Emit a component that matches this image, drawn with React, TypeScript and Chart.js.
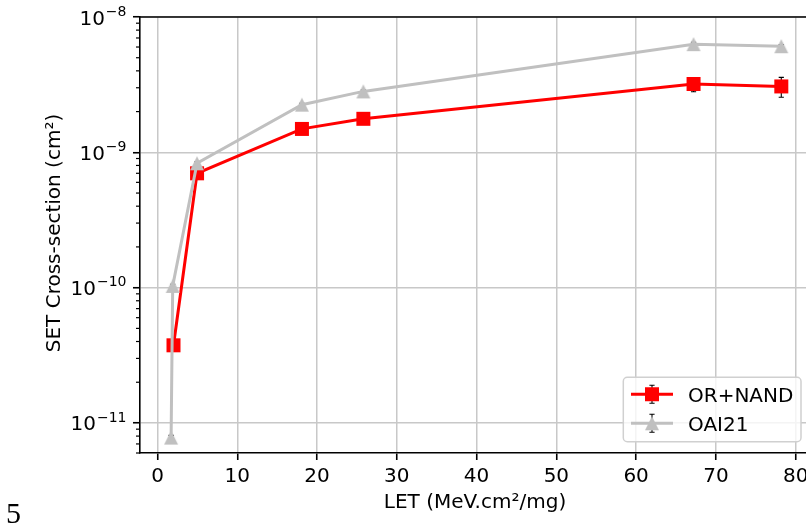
import React, { useEffect, useRef } from 'react';
import { Chart, registerables } from 'chart.js';

Chart.register(...registerables);

// ---- data ----
const seriesNames = ['OR+NAND', 'OAI21'];
const orNandLet = [2.0, 4.95, 18.1, 25.8, 67.2, 78.2];
const orNandSigma = [3.75e-11, 7.0e-10, 1.49e-9, 1.77e-9, 3.2e-9, 3.07e-9];
const orNandErrLow = [3.6e-11, 6.8e-10, 1.45e-9, 1.72e-9, 2.8e-9, 2.55e-9];
const orNandErrHigh = [3.9e-11, 7.2e-10, 1.53e-9, 1.82e-9, 3.45e-9, 3.58e-9];
const oaiLet = [1.7, 1.9, 4.95, 18.1, 25.8, 67.2, 78.2];
const oaiSigma = [7.8e-12, 1.03e-10, 8.3e-10, 2.25e-9, 2.82e-9, 6.3e-9, 6.08e-9];
const oaiErrLow = [7.5e-12, 1.0e-10, 8.1e-10, 2.2e-9, 2.76e-9, 6.1e-9, 5.9e-9];
const oaiErrHigh = [8.1e-12, 1.06e-10, 8.5e-10, 2.3e-9, 2.88e-9, 6.5e-9, 6.25e-9];
const xTickValues = [0, 10, 20, 30, 40, 50, 60, 70, 80];
const yDecadeExponents = [-11, -10, -9, -8];
const xAxisTitle = 'LET (MeV.cm²/mg)';
const yAxisTitle = 'SET Cross-section (cm²)';
const pageNumber = '5';
const xMin = -2.2;
const xMax = 81.8;
const yMin = 6e-12;
const yMax = 1e-8;

const RED = '#ff0000';
const SILVER = '#c0c0c0';
const FONT = "'DejaVu Sans', sans-serif";

function squareMarker(color: string, size: number) {
  const c = document.createElement('canvas');
  c.width = size + 2;
  c.height = size + 2;
  const g = c.getContext('2d')!;
  g.fillStyle = color;
  g.fillRect(1, 1, size, size);
  return c;
}

function triangleMarker(color: string, size: number) {
  const c = document.createElement('canvas');
  c.width = size + 2;
  c.height = size + 2;
  const g = c.getContext('2d')!;
  g.fillStyle = color;
  g.beginPath();
  g.moveTo(1 + size / 2, 1);
  g.lineTo(1 + size, 1 + size);
  g.lineTo(1, 1 + size);
  g.closePath();
  g.fill();
  return c;
}

export default function App() {
  const ref = useRef<HTMLCanvasElement | null>(null);

  useEffect(() => {
    const canvas = ref.current;
    if (!canvas) return;
    const sq = squareMarker(RED, 14);
    const tri = triangleMarker(SILVER, 14);
    const errSets = [
      { xs: orNandLet, lo: orNandErrLow, hi: orNandErrHigh },
      { xs: oaiLet, lo: oaiErrLow, hi: oaiErrHigh },
    ];

    const drawErr = (ctx: CanvasRenderingContext2D, px: number, y1: number, y2: number, cap: number) => {
      ctx.beginPath();
      ctx.moveTo(px, y1);
      ctx.lineTo(px, y2);
      ctx.moveTo(px - cap, y1);
      ctx.lineTo(px + cap, y1);
      ctx.moveTo(px - cap, y2);
      ctx.lineTo(px + cap, y2);
      ctx.stroke();
    };

    const decor = {
      id: 'mplDecor',
      beforeDatasetsDraw(chart: any) {
        const { ctx, scales } = chart;
        const x = scales.x;
        const y = scales.y;
        ctx.save();
        ctx.strokeStyle = '#000';
        ctx.lineWidth = 1.1;
        errSets.forEach((s) => {
          s.xs.forEach((v, i) => {
            const px = x.getPixelForValue(v);
            drawErr(ctx, px, y.getPixelForValue(s.hi[i]), y.getPixelForValue(s.lo[i]), 2.6);
          });
        });
        ctx.restore();
      },
      afterDraw(chart: any) {
        const { ctx, chartArea: a, scales } = chart;
        const y = scales.y;
        ctx.save();
        // top spine
        ctx.strokeStyle = '#000';
        ctx.lineWidth = 1.6;
        ctx.beginPath();
        ctx.moveTo(a.left - 0.8, a.top);
        ctx.lineTo(a.right + 1, a.top);
        ctx.stroke();
        // minor ticks on log axis
        ctx.lineWidth = 1.2;
        for (let e = -12; e <= -9; e++) {
          for (let m = 2; m <= 9; m++) {
            const v = m * Math.pow(10, e);
            if (v < yMin || v > yMax) continue;
            const py = y.getPixelForValue(v);
            ctx.beginPath();
            ctx.moveTo(a.left - 4, py);
            ctx.lineTo(a.left, py);
            ctx.stroke();
          }
        }
        // y tick labels with superscript exponents
        ctx.fillStyle = '#000';
        ctx.textAlign = 'right';
        ctx.textBaseline = 'alphabetic';
        yDecadeExponents.forEach((e) => {
          const py = y.getPixelForValue(Math.pow(10, e));
          const exp = (e < 0 ? '\u2212' : '') + Math.abs(e);
          ctx.font = `14px ${FONT}`;
          const ew = ctx.measureText(exp).width;
          ctx.fillText(exp, a.left - 13.5, py - 1.3);
          ctx.font = `20px ${FONT}`;
          ctx.fillText('10', a.left - 13.5 - ew - 1, py + 7.5);
        });
        // axis titles
        ctx.font = `20px ${FONT}`;
        ctx.textAlign = 'center';
        ctx.fillText(xAxisTitle, (a.left + a.right) / 2, 508);
        ctx.save();
        ctx.translate(59.5, (a.top + a.bottom) / 2 - 2);
        ctx.rotate(-Math.PI / 2);
        ctx.fillText(yAxisTitle, 0, 0);
        ctx.restore();
        // legend
        const lx = 623.3, ly = 377.3, lw = 177.7, lh = 64.4;
        ctx.beginPath();
        ctx.roundRect(lx, ly, lw, lh, 4);
        ctx.fillStyle = 'rgba(255,255,255,0.8)';
        ctx.fill();
        ctx.strokeStyle = '#d0d0d0';
        ctx.lineWidth = 1.5;
        ctx.stroke();
        const rows = [394.2, 423.3];
        const colors = [RED, SILVER];
        const markers = [sq, tri];
        seriesNames.forEach((name, i) => {
          const ry = rows[i];
          ctx.strokeStyle = '#000';
          ctx.lineWidth = 1.1;
          drawErr(ctx, 652, ry - 9, ry + 9, 2.6);
          ctx.strokeStyle = colors[i];
          ctx.lineWidth = 3;
          ctx.beginPath();
          ctx.moveTo(631, ry);
          ctx.lineTo(673, ry);
          ctx.stroke();
          const m = markers[i];
          ctx.drawImage(m, 652 - m.width / 2, ry - m.height / 2);
          ctx.fillStyle = '#000';
          ctx.textAlign = 'left';
          ctx.font = `20px ${FONT}`;
          ctx.fillText(name, 688, ry + 7.3);
        });
        ctx.restore();
      },
    };

    const gridCommon = {
      color: '#c8c8c8',
      lineWidth: 1.5,
      tickColor: '#000',
      tickLength: 7,
      tickWidth: 1.6,
      drawOnChartArea: true,
    };

    const chart = new Chart(canvas, {
      type: 'line',
      data: {
        datasets: [
          {
            label: seriesNames[0],
            data: orNandLet.map((v, i) => ({ x: v, y: orNandSigma[i] })),
            borderColor: RED,
            backgroundColor: RED,
            borderWidth: 3,
            pointStyle: sq as any,
            pointRadius: 7,
            tension: 0,
            order: 2,
          },
          {
            label: seriesNames[1],
            data: oaiLet.map((v, i) => ({ x: v, y: oaiSigma[i] })),
            borderColor: SILVER,
            backgroundColor: SILVER,
            borderWidth: 3,
            pointStyle: tri as any,
            pointRadius: 7,
            tension: 0,
            order: 1,
          },
        ],
      },
      options: {
        animation: false,
        responsive: false,
        devicePixelRatio: 1,
        layout: { padding: { top: 17, right: 20, left: 0, bottom: 0 } },
        plugins: { legend: { display: false }, tooltip: { enabled: false } },
        events: [],
        scales: {
          x: {
            type: 'linear',
            min: xMin,
            max: xMax,
            afterBuildTicks: (s: any) => {
              s.ticks = xTickValues.map((v) => ({ value: v }));
            },
            afterFit: (s: any) => {
              s.height = 75;
            },
            grid: gridCommon,
            border: { display: true, color: '#000', width: 1.6 },
            ticks: {
              color: '#000',
              font: { family: FONT, size: 20 },
              padding: 5,
              maxRotation: 0,
              autoSkip: false,
              callback: (v: any) => String(v),
            },
          },
          y: {
            type: 'logarithmic',
            min: yMin,
            max: yMax,
            afterBuildTicks: (s: any) => {
              s.ticks = yDecadeExponents.map((e) => ({ value: Math.pow(10, e), major: true }));
            },
            afterFit: (s: any) => {
              s.width = 140;
            },
            grid: gridCommon,
            border: { display: true, color: '#000', width: 1.6 },
            ticks: {
              autoSkip: false,
              font: { family: FONT, size: 20 },
              callback: () => '',
            },
          },
        },
      } as any,
      plugins: [decor],
    });
    return () => chart.destroy();
  }, []);

  return (
    <div
      style={{
        position: 'fixed',
        left: 0,
        top: 0,
        width: 806,
        height: 528,
        overflow: 'hidden',
        background: '#fff',
      }}
    >
      <canvas ref={ref} width={830} height={528} style={{ display: 'block', width: 830, height: 528 }} />
      <span
        style={{
          position: 'absolute',
          left: 6,
          top: 498,
          fontFamily: "'Liberation Serif', serif",
          fontSize: 30,
          lineHeight: '30px',
          color: '#000',
        }}
      >
        {pageNumber}
      </span>
    </div>
  );
}
